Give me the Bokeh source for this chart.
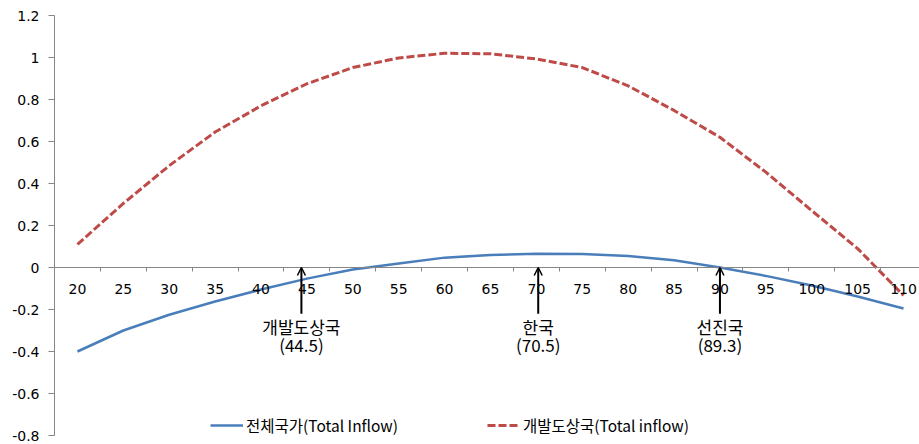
from bokeh.plotting import figure
from bokeh.models import (ColumnDataSource, Range1d, FixedTicker, CustomJSTickFormatter,
                          Legend, LegendItem, Arrow, OpenHead, LinearAxis)
from bokeh.core.properties import value
from bokeh.embed import file_html
from bokeh.resources import INLINE

# ---- data ----
ages = [20, 25, 30, 35, 40, 45, 50, 55, 60, 65, 70, 75, 80, 85, 90, 95, 100, 105, 110]
total_all = [-0.40, -0.30, -0.225, -0.162, -0.105, -0.053, -0.01, 0.019, 0.047, 0.06, 0.065,
             0.064, 0.055, 0.035, 0.0, -0.04, -0.086, -0.138, -0.195]
total_dev = [0.11, 0.305, 0.485, 0.645, 0.77, 0.875, 0.952, 0.998, 1.02, 1.018, 0.993,
             0.952, 0.865, 0.748, 0.62, 0.454, 0.271, 0.09, -0.133]
y_ticks = [-0.8, -0.6, -0.4, -0.2, 0, 0.2, 0.4, 0.6, 0.8, 1.0, 1.2]

ann_x = [44.4, 70.2, 90.0]
ann_name = ["개발도상국", "한국", "선진국"]
ann_value = ["(44.5)", "(70.5)", "(89.3)"]
arrow_bottom = -0.22
name_y = -0.281
value_y = -0.367

legend_labels = ["전체국가(Total Inflow)", "개발도상국(Total inflow)"]

BLUE = "#4A7EBB"
RED = "#BE4B48"
AXIS = "#868686"
KFONT = "Noto Sans CJK KR"
NFONT = "DejaVu Sans"

p = figure(width=919, height=444, output_backend="svg", toolbar_location=None,
           x_range=Range1d(17.5, 111.74), y_range=Range1d(-0.8, 1.2),
           min_border_left=54, min_border_right=0, min_border_top=15, min_border_bottom=9,
           x_axis_location=None)
p.outline_line_color = None
p.grid.visible = False
p.background_fill_color = "white"
p.border_fill_color = "white"

# y axis
ya = p.yaxis[0]
ya.ticker = FixedTicker(ticks=y_ticks)
ya.formatter = CustomJSTickFormatter(code="return String(Math.round(tick*10)/10);")
ya.axis_line_color = AXIS
ya.major_tick_line_color = AXIS
ya.major_tick_out = 6
ya.major_tick_in = 0
ya.minor_tick_line_color = None
ya.major_label_standoff = 9
ya.major_label_text_font = NFONT
ya.major_label_text_font_size = "14px"
ya.major_label_text_color = "black"

# x axis at y = 0
xa = LinearAxis(fixed_location=0)
xa.ticker = FixedTicker(ticks=ages, minor_ticks=[a + 2.5 for a in ages])
xa.axis_line_color = AXIS
xa.major_tick_line_color = None
xa.major_tick_out = 0
xa.major_tick_in = 0
xa.minor_tick_line_color = AXIS
xa.minor_tick_out = 4
xa.minor_tick_in = 0
xa.major_label_standoff = 12
xa.major_label_text_font = NFONT
xa.major_label_text_font_size = "14px"
xa.major_label_text_color = "black"
p.add_layout(xa, "below")

src = ColumnDataSource(dict(age=ages, all=total_all, dev=total_dev))
r_all = p.line("age", "all", source=src, line_color=BLUE, line_width=2.5)
r_dev = p.line("age", "dev", source=src, line_color=RED, line_width=3, line_dash="8 3")

# arrows and annotation texts
asrc = ColumnDataSource(dict(x=ann_x, y0=[arrow_bottom] * 3, y1=[0] * 3,
                             name=ann_name, val=ann_value,
                             ny=[name_y] * 3, vy=[value_y] * 3))
p.add_layout(Arrow(end=OpenHead(size=8, line_width=1.5, line_color="black"),
                   x_start="x", y_start="y0", x_end="x", y_end="y1",
                   line_width=2, line_color="black", source=asrc))
p.text("x", "ny", text="name", source=asrc, text_font=value(KFONT), text_font_size="17px",
       text_align="center", text_baseline="middle", text_color="black")
p.text("x", "vy", text="val", source=asrc, text_font=value(KFONT), text_font_size="17px",
       text_align="center", text_baseline="middle", text_color="black")

# legends
for rend, lab, loc in [(r_all, legend_labels[0], (156, -1)), (r_dev, legend_labels[1], (433, -1))]:
    leg = Legend(items=[LegendItem(label=lab, renderers=[rend])], location=loc,
                 orientation="horizontal", padding=0, margin=0, spacing=0,
                 glyph_width=33, glyph_height=16, label_height=16, label_standoff=3,
                 label_text_font=KFONT, label_text_font_size="15.5px", label_text_color="black",
                 border_line_color=None, background_fill_alpha=0)
    p.add_layout(leg, "center")

open("out.html", "w").write(file_html(p, INLINE))
